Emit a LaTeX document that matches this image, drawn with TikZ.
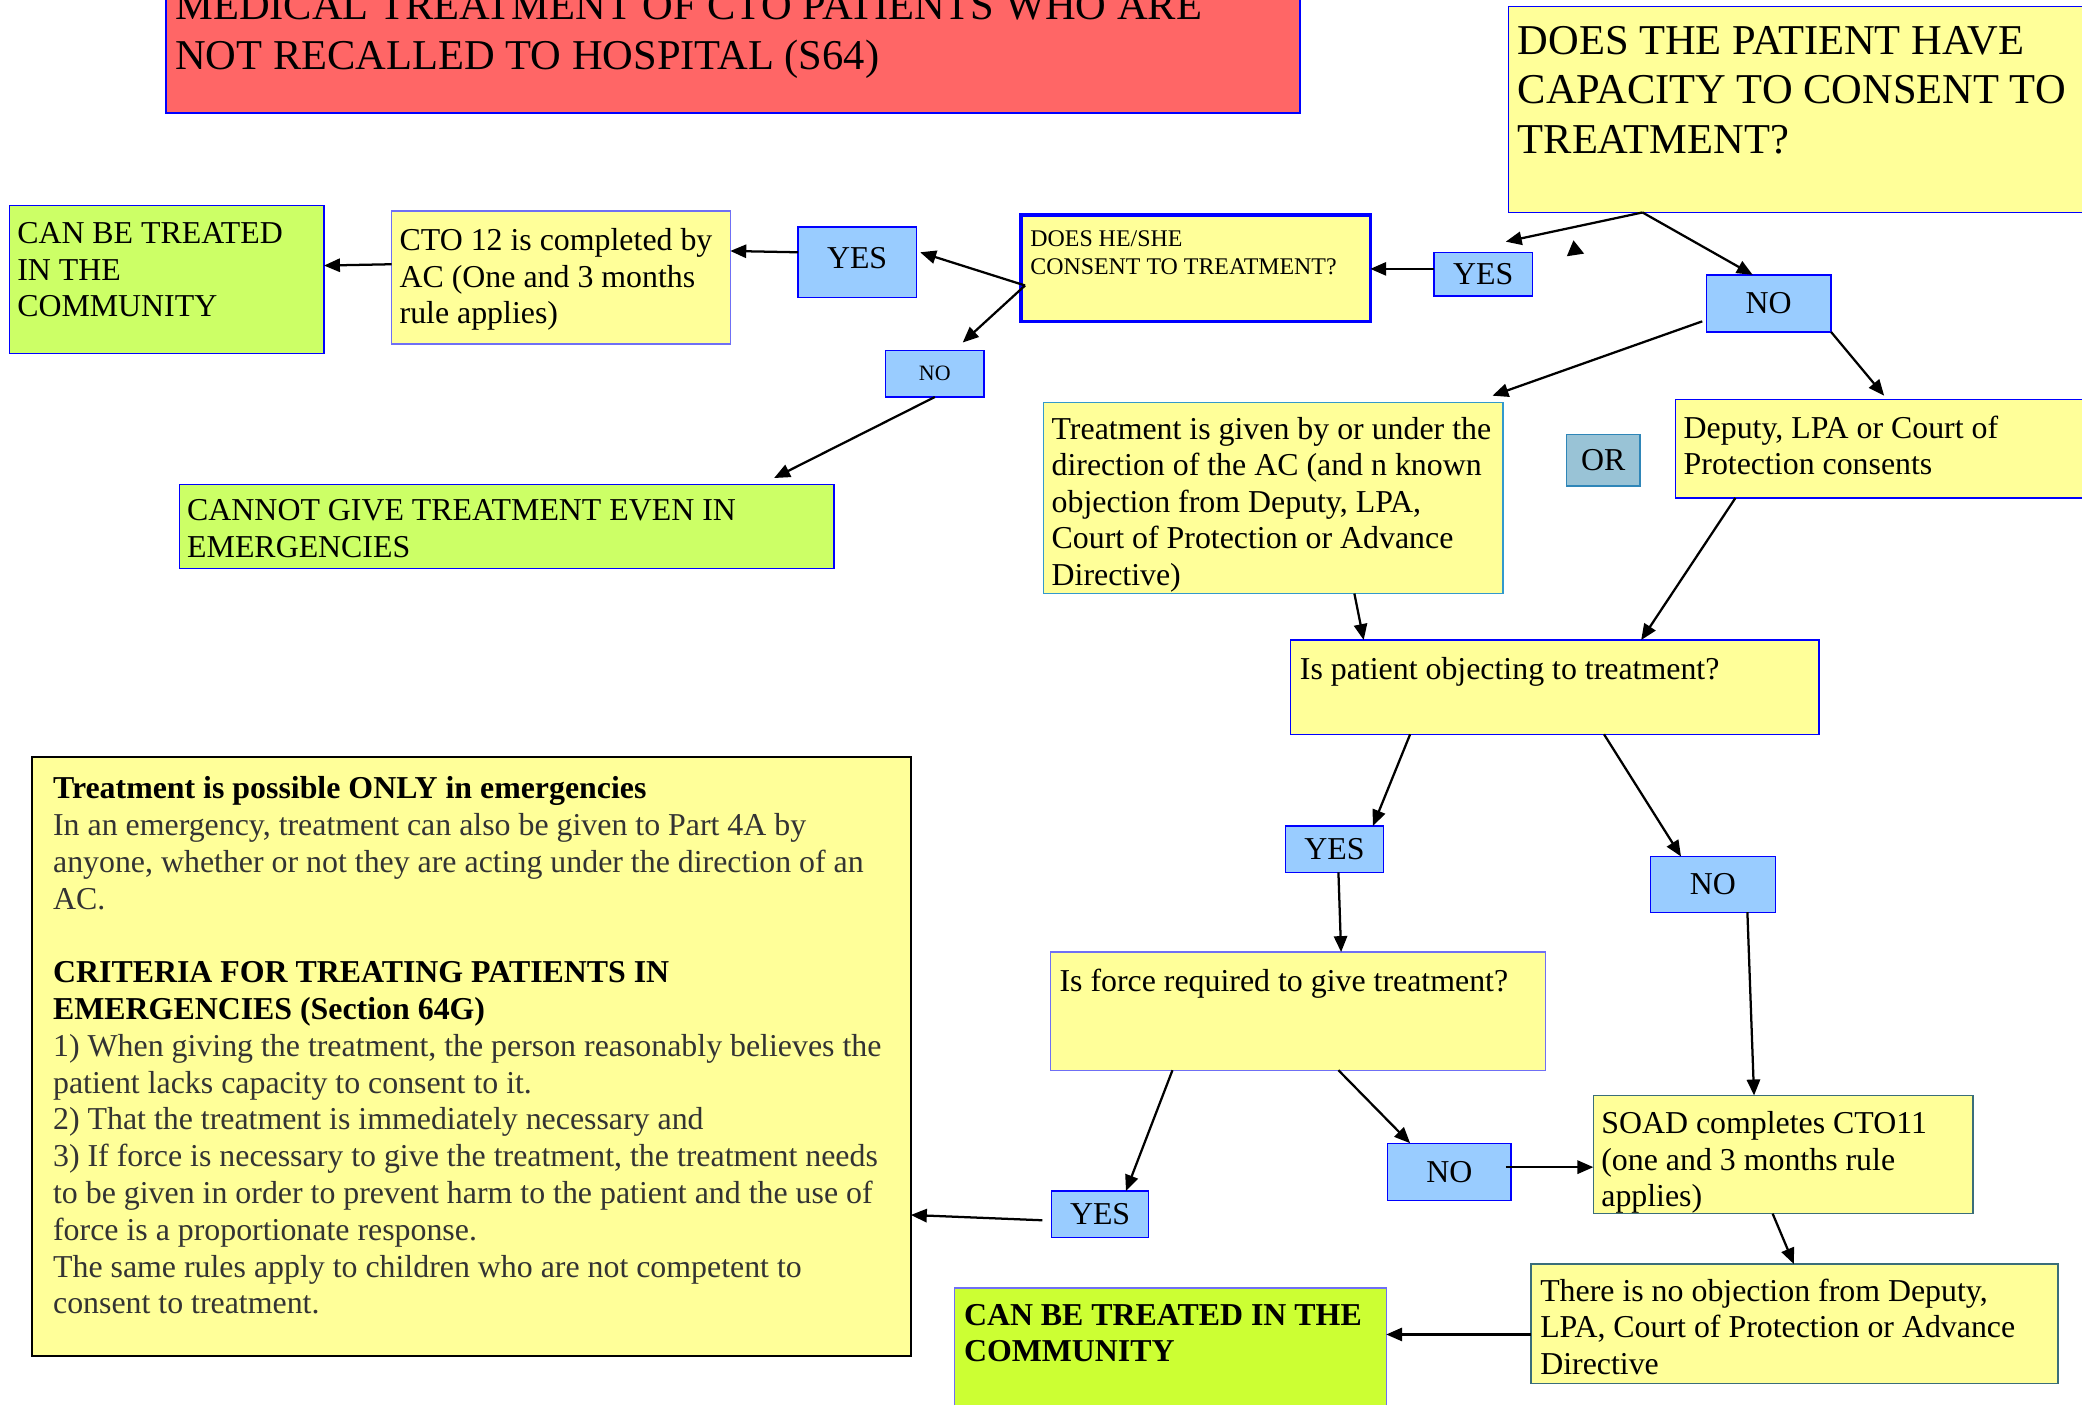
\documentclass[tikz,border=0pt]{standalone}
\usepackage{fontspec}
\setmainfont{Liberation Serif}
\usetikzlibrary{arrows.meta}
\definecolor{yel}{HTML}{FFFF99}
\definecolor{grn}{HTML}{CCFF66}
\definecolor{grnb}{HTML}{CCFF33}
\definecolor{lbl}{HTML}{99CCFF}
\definecolor{orf}{HTML}{99C3D6}
\definecolor{orb}{HTML}{2F86B8}
\definecolor{redf}{HTML}{FF6666}
\definecolor{bblue}{HTML}{0000FF}
\definecolor{lblue}{HTML}{6F6FF5}
\definecolor{cyb}{HTML}{3399CC}
\definecolor{tealb}{HTML}{3A6E7A}
\definecolor{txtg}{HTML}{333333}
\newcommand\fsz[2]{\fontsize{#1pt}{#2pt}\selectfont}
\newcommand\bxtext[5]{\parbox[c][#2pt][t]{#1pt}{\leftskip=#3pt\rightskip=-80pt plus 1fil\parfillskip=0pt plus 1fil\vspace*{#4pt}#5}}
\tikzset{
  cbox/.style={draw=bblue, line width=1pt, anchor=north west, inner sep=0pt, outer sep=0pt},
  ctag/.style={cbox, fill=lbl, font=\fsz{24}{27.6}},
  carr/.style={line width=1.7pt, -{Triangle[length=12pt,width=10pt]}},
}
\begin{document}
\begin{tikzpicture}[x=1pt,y=-1pt]
\useasboundingbox (0,0) rectangle (1568,1058);
% boxes
\node[cbox, fill=redf] (title) at (125,-45) {\fsz{32}{37.5}\bxtext{854}{130}{7}{38.6}{MEDICAL TREATMENT OF CTO PATIENTS WHO ARE\\NOT RECALLED TO HOSPITAL (S64)}};
\node[cbox, fill=yel] (cap) at (1136,5) {\fsz{32}{37.3}\bxtext{440}{155}{7}{14.6}{DOES THE PATIENT HAVE\\CAPACITY TO CONSENT TO\\TREATMENT?}};
\node[cbox, fill=yel, line width=2.5pt] (hesh) at (769,162) {\fsz{18}{21}\bxtext{263}{80}{7}{12}{DOES HE/SHE\\CONSENT TO TREATMENT?}};
\node[ctag, minimum width=74, minimum height=33] (yesr) at (1080,190) {YES};
\node[ctag, minimum width=94, minimum height=43] (nor) at (1285,207) {NO};
\node[ctag, minimum width=89, minimum height=53] (yesl) at (601,171) {\raisebox{7pt}{YES}};
\node[cbox, fill=yel, draw=lblue] (cto) at (295,159) {\fsz{24}{27.6}\bxtext{255}{100}{6}{13}{CTO 12 is completed by\\AC (One and 3 months\\rule applies)}};
\node[cbox, fill=grn] (cantop) at (7,155) {\fsz{24}{27.6}\bxtext{237}{111}{6}{12.5}{CAN BE TREATED\\IN THE\\COMMUNITY}};
\node[ctag, minimum width=74, minimum height=35, font=\fsz{16.5}{19}] (nos) at (667,264) {NO};
\node[cbox, fill=grn] (cannot) at (135,365) {\fsz{24}{27.6}\bxtext{493}{63}{6}{11}{CANNOT GIVE TREATMENT EVEN IN\\EMERGENCIES}};
\node[cbox, fill=yel, draw=cyb] (treat) at (786,303) {\fsz{24}{27.5}\bxtext{346}{144}{6}{11}{Treatment is given by or under the\\direction of the AC (and n known\\objection from Deputy, LPA,\\Court of Protection or Advance\\Directive)}};
\node[ctag, fill=orf, draw=orb, minimum width=55, minimum height=39] (or) at (1180,327) {OR};
\node[cbox, fill=yel] (deputy) at (1262,301) {\fsz{24}{27.6}\bxtext{314}{74}{6}{12}{Deputy, LPA or Court of\\Protection consents}};
\node[cbox, fill=yel] (obj) at (972,482) {\fsz{24}{27.6}\bxtext{398}{71}{7}{13}{Is patient objecting to treatment?}};
\node[ctag, minimum width=74, minimum height=35] (yesm) at (968,622) {YES};
\node[ctag, minimum width=94, minimum height=42] (nom) at (1243,645) {NO};
\node[cbox, fill=yel, draw=lblue] (force) at (791,717) {\fsz{24}{27.6}\bxtext{373}{89}{7}{13}{Is force required to give treatment?}};
\node[ctag, minimum width=73, minimum height=35] (yesb) at (792,897) {YES};
\node[ctag, minimum width=93, minimum height=43] (nob) at (1045,861) {NO};
\node[cbox, fill=yel, draw=tealb] (soad) at (1200,825) {\fsz{24}{27.6}\bxtext{286}{89}{6}{12}{SOAD completes CTO11\\(one and 3 months rule\\applies)}};
\node[cbox, fill=yel, draw=tealb] (thereis) at (1153,952) {\fsz{24}{27.6}\bxtext{397}{90}{7}{11}{There is no objection from Deputy,\\LPA, Court of Protection or Advance\\Directive}};
\node[cbox, fill=grnb, draw=lblue] (canbot) at (719,970) {\fsz{24}{27.6}\bfseries\bxtext{325}{100}{7}{12}{CAN BE TREATED IN THE\\COMMUNITY}};
\node[cbox, fill=yel, draw=black, line width=1.5pt] (big) at (24,570) {\fsz{24}{27.7}\bxtext{662}{451}{16}{15}{{\bfseries Treatment is possible ONLY in emergencies}\\{\color{txtg}In an emergency, treatment can also be given to Part 4A by\\anyone, whether or not they are acting under the direction of an\\AC.}\\\mbox{}\\{\bfseries CRITERIA FOR TREATING PATIENTS IN\\EMERGENCIES (Section 64G)}\\{\color{txtg}1) When giving the treatment, the person reasonably believes the\\patient lacks capacity to consent to it.\\2) That the treatment is immediately necessary and\\3) If force is necessary to give the treatment, the treatment needs\\to be given in order to prevent harm to the patient and the use of\\force is a proportionate response.\\The same rules apply to children who are not competent to\\consent to treatment.}}};
% stray arrowhead
\fill (1180,193) -- (1193,191) -- (1185,181) -- cycle;
% connectors
\draw[carr] ([shift={(101,0)}]cap.south west) -- ([shift={(54,-8)}]yesr.north west);
\draw[carr] ([shift={(101,0)}]cap.south west) -- ([shift={(35,0)}]nor.north west);
\draw[carr] ([shift={(0,-4)}]yesr.west) -- ([shift={(0,40.5)}]hesh.north east);
\draw[carr] ([shift={(3,53)}]hesh.north west) -- ([shift={(3,19)}]yesl.north east);
\draw[carr] ([shift={(3,53)}]hesh.north west) -- ([shift={(58,-6)}]nos.north west);
\draw[carr] ([shift={(0,19)}]yesl.north west) -- ([shift={(0,30)}]cto.north east);
\draw[carr] ([shift={(0,40)}]cto.north west) -- ([shift={(0,45)}]cantop.north east);
\draw[carr] (nos.south) -- ([shift={(448,-5)}]cannot.north west);
\draw[carr] ([shift={(-3,35)}]nor.north west) -- ([shift={(338,-5)}]treat.north west);
\draw[carr] (nor.south east) -- ([shift={(157,-3)}]deputy.north west);
\draw[carr] ([shift={(234,0)}]treat.south west) -- ([shift={(55,0)}]obj.north west);
\draw[carr] ([shift={(45,0)}]deputy.south west) -- ([shift={(264,0)}]obj.north west);
\draw[carr] ([shift={(90,0)}]obj.south west) -- ([shift={(66,0)}]yesm.north west);
\draw[carr] ([shift={(236,0)}]obj.south west) -- ([shift={(23,0)}]nom.north west);
\draw[carr] ([shift={(40,0)}]yesm.south west) -- ([shift={(219,0)}]force.north west);
\draw[carr] ([shift={(73,0)}]nom.south west) -- ([shift={(121,0)}]soad.north west);
\draw[carr] ([shift={(92,0)}]force.south west) -- ([shift={(56,0)}]yesb.north west);
\draw[carr] ([shift={(217,0)}]force.south west) -- ([shift={(17,0)}]nob.north west);
\draw[carr] ([shift={(-4,18)}]nob.north east) -- ([shift={(0,54)}]soad.north west);
\draw[carr] ([shift={(-7,22)}]yesb.north west) -- ([shift={(0,345)}]big.north east);
\draw[carr] ([shift={(135,0)}]soad.south west) -- ([shift={(198,0)}]thereis.north west);
\draw[carr] ([shift={(0,53)}]thereis.north west) -- ([shift={(0,35)}]canbot.north east);
\end{tikzpicture}
\end{document}
